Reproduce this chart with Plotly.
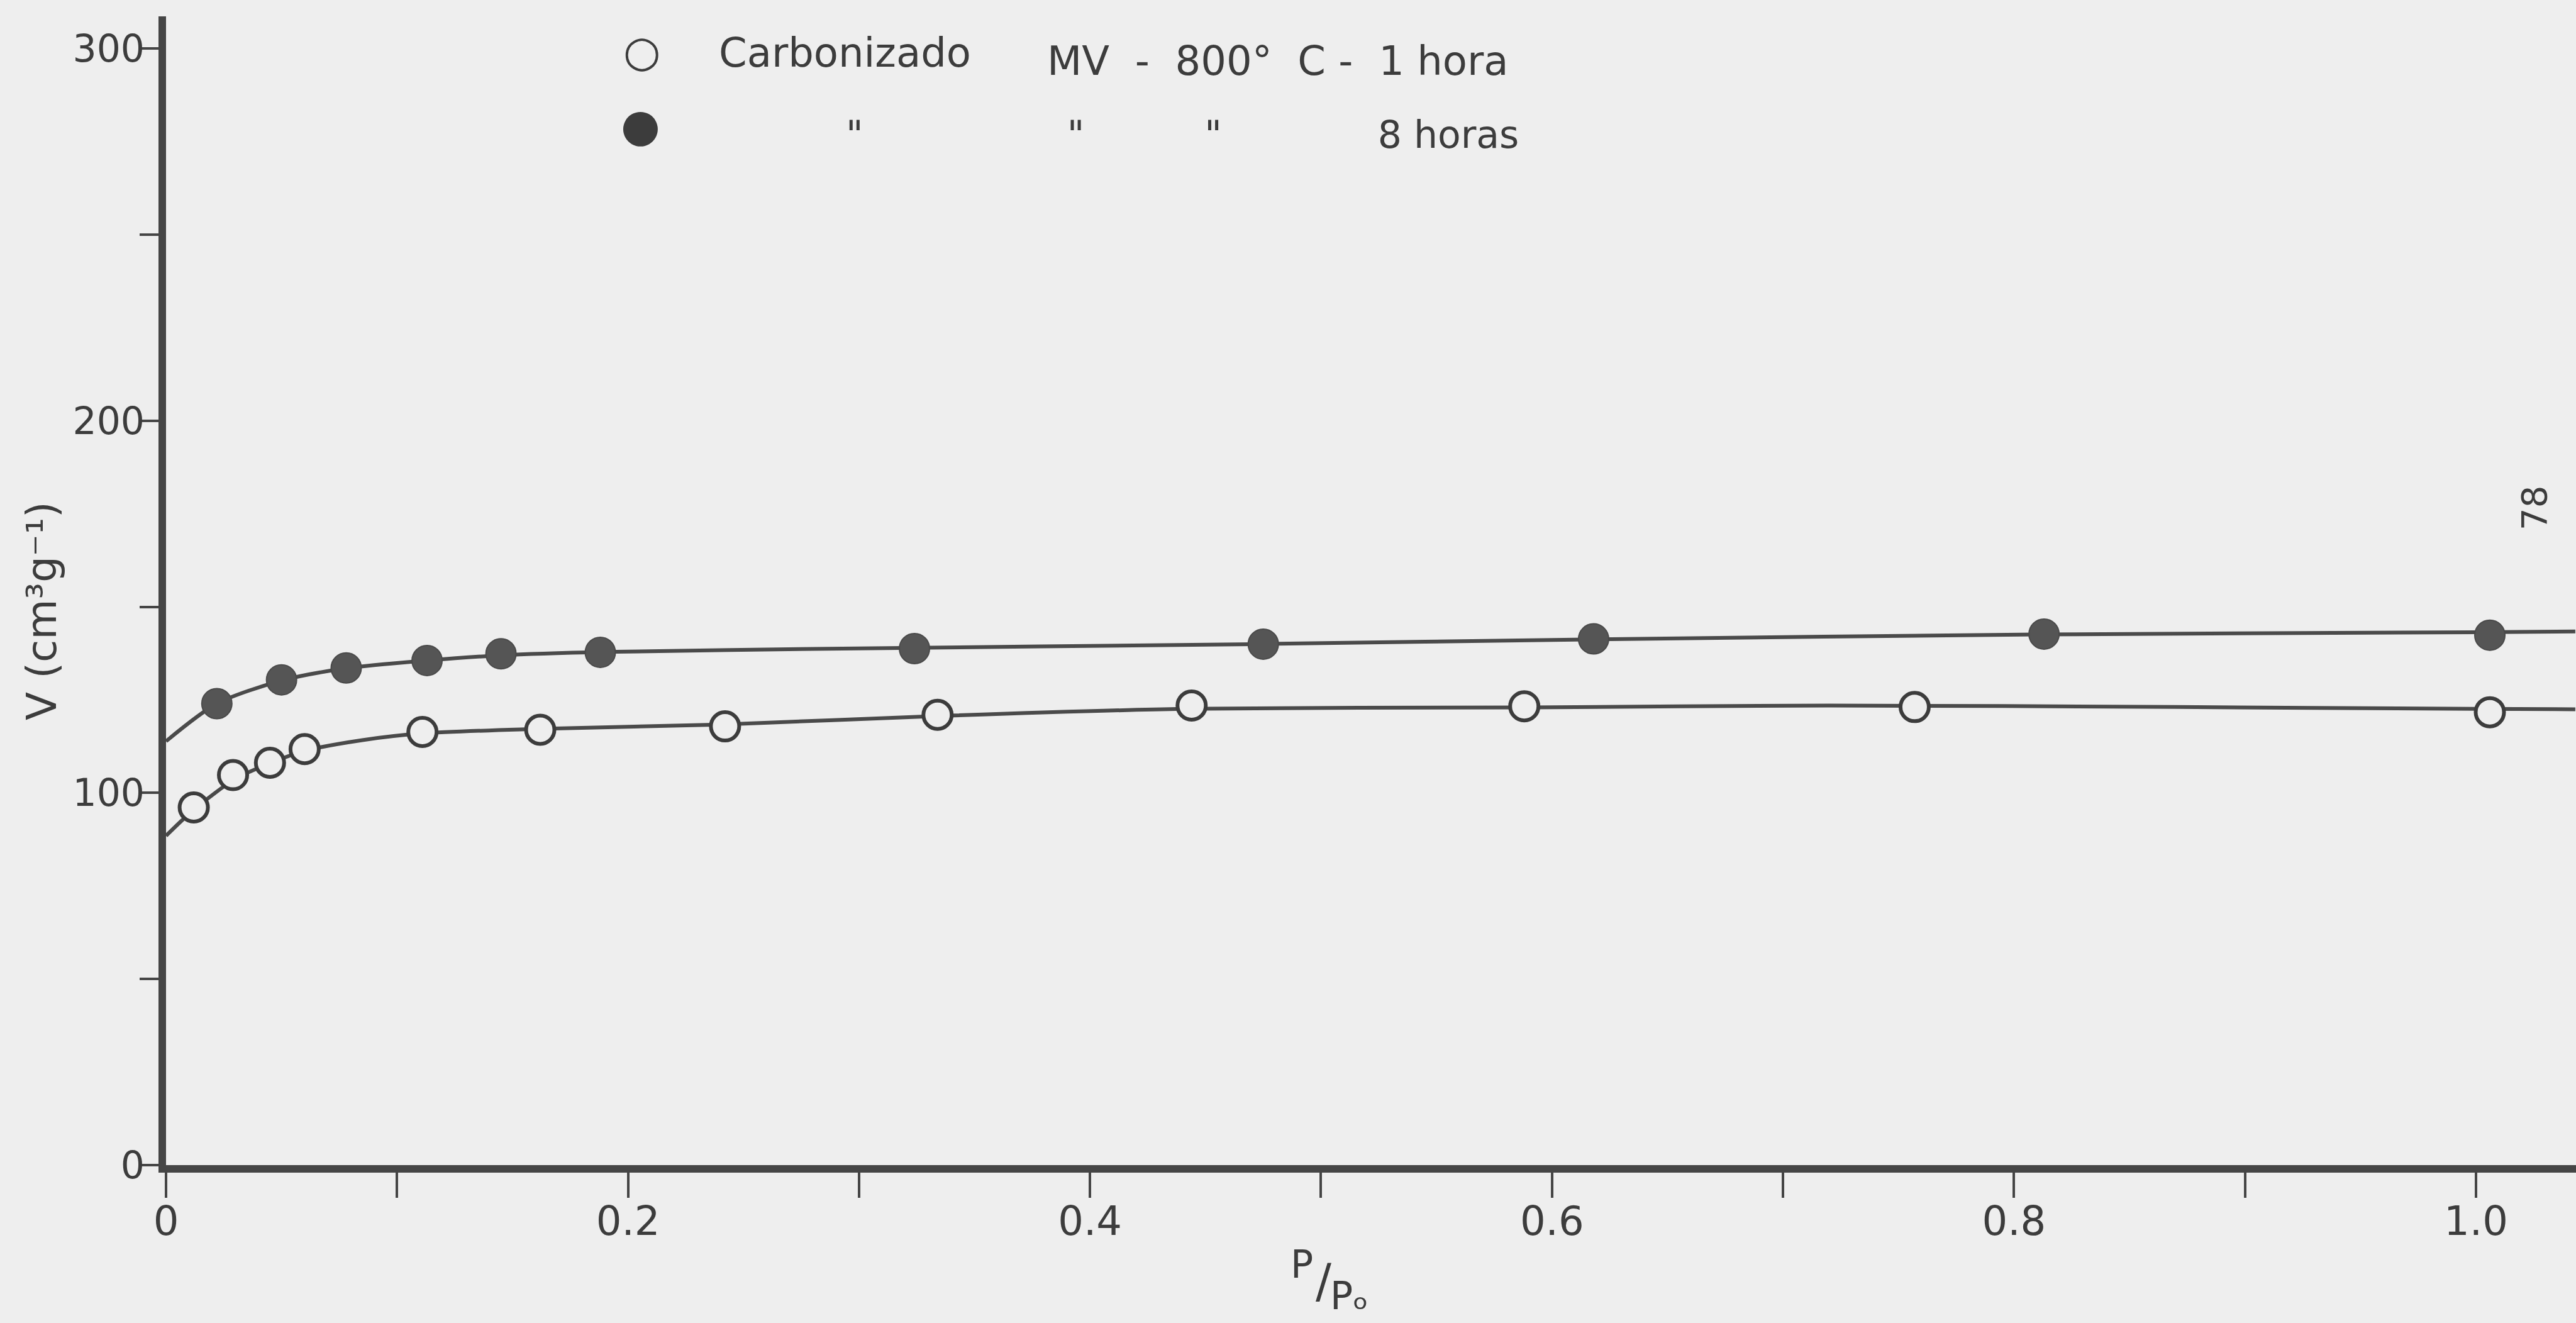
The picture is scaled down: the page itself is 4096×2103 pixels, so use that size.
import plotly.graph_objects as go

# ---------------- data ----------------
# measured points, 1 hour carbonisation (open circles)
x_1h = [0.012, 0.029, 0.045, 0.060, 0.111, 0.162, 0.242, 0.334, 0.444, 0.588, 0.757, 1.006]
v_1h = [96.1, 104.8, 108.1, 111.8, 116.4, 117.0, 117.9, 121.0, 123.5, 123.3, 123.1, 121.7]

# measured points, 8 hours carbonisation (filled circles)
x_8h = [0.022, 0.050, 0.078, 0.113, 0.145, 0.188, 0.324, 0.475, 0.618, 0.813, 1.006]
v_8h = [124.0, 130.4, 133.6, 135.6, 137.4, 137.8, 138.8, 140.0, 141.4, 142.7, 142.4]

# hand-drawn smooth curves through the points
curve_x_1h = [0.0, 0.012, 0.030, 0.045, 0.060, 0.085, 0.111, 0.160, 0.240, 0.330, 0.440, 0.590, 0.720, 0.870, 1.000, 1.043]
curve_v_1h = [88.5, 95.5, 103.8, 108.0, 111.3, 114.2, 116.0, 117.2, 118.4, 120.6, 122.6, 123.0, 123.5, 123.1, 122.6, 122.5]

curve_x_8h = [0.0, 0.022, 0.050, 0.078, 0.113, 0.145, 0.190, 0.280, 0.470, 0.620, 0.810, 1.000, 1.043]
curve_v_8h = [113.9, 124.0, 130.2, 133.5, 135.6, 137.0, 137.9, 138.7, 140.0, 141.3, 142.6, 143.2, 143.4]

x_ticks = [0.0, 0.2, 0.4, 0.6, 0.8, 1.0]
x_tick_labels = ["0", "0.2", "0.4", "0.6", "0.8", "1.0"]
x_minor_step = 0.1
y_ticks = [0, 100, 200, 300]
y_tick_labels = ["0", "100", "200", "300"]
y_minor_step = 50

# ---------------- style ----------------
W, H = 4096, 2103
PX_L, PX_R, PX_T, PX_B = 264, 4096, 26, 1852
BG = "#eeeeee"
INK = "#3c3c3c"
LINE = "#4a4a4a"
AXIS = "#454545"
FONT = "DejaVu Sans"
NB = "\u00a0"


def fx(px):
    return (px - PX_L) / (PX_R - PX_L)


def fy(py):
    return (PX_B - py) / (PX_B - PX_T)


fig = go.Figure()

fig.add_trace(go.Scatter(x=curve_x_1h, y=curve_v_1h, mode="lines",
                         line=dict(color=LINE, width=6, shape="spline", smoothing=0.8),
                         showlegend=False, hoverinfo="skip"))
fig.add_trace(go.Scatter(x=curve_x_8h, y=curve_v_8h, mode="lines",
                         line=dict(color=LINE, width=6, shape="spline", smoothing=0.8),
                         showlegend=False, hoverinfo="skip"))

fig.add_trace(go.Scatter(x=x_1h, y=v_1h, mode="markers", name="Carbonizado MV - 800° C - 1 hora",
                         marker=dict(size=45, color=BG, line=dict(color=INK, width=6)),
                         showlegend=False, cliponaxis=False))
fig.add_trace(go.Scatter(x=x_8h, y=v_8h, mode="markers", name="Carbonizado MV - 800° C - 8 horas",
                         marker=dict(size=48, color="#555555", line=dict(color="#4a4a4a", width=2)),
                         showlegend=False, cliponaxis=False))

ann = []


def txt(text, px, py, size=64, xanchor="left", angle=0):
    ann.append(dict(text=text, x=fx(px), y=fy(py), xref="paper", yref="paper",
                    xanchor=xanchor, yanchor="middle", showarrow=False, textangle=angle,
                    font=dict(family=FONT, size=size, color=INK)))


# legend (drawn as text)
txt("<b>○</b>", 1020, 82, size=68, xanchor="center")
txt("●", 1018, 199, size=72, xanchor="center")
txt("Carbonizado", 1141, 84)
txt("MV" + NB * 2 + "-" + NB * 2 + "800°" + NB * 2 + "C" + NB + "-" + NB * 2 + "1 hora", 1663, 97)
txt('"' + NB * 17 + '"' + NB * 10 + '"' + NB * 13 + "8 horas", 1343, 214, size=60)

# axis titles
txt("V (cm³g⁻¹)", 66, 971, size=66, xanchor="center", angle=-90)
txt("P", 2070, 2010, size=60, xanchor="center")
txt("/", 2104, 2036, size=74, xanchor="center")
txt("Pₒ", 2113, 2060, size=60)

# page number
txt("78", 4029, 808, size=56, xanchor="center", angle=-90)

fig.update_layout(
    width=W, height=H,
    margin=dict(l=PX_L, r=W - PX_R, t=PX_T, b=H - PX_B, pad=0),
    paper_bgcolor=BG, plot_bgcolor=BG,
    showlegend=False,
    annotations=ann,
    font=dict(family=FONT, color=INK),
    xaxis=dict(range=[0, 1.0433], showgrid=False, zeroline=False,
               showline=True, linewidth=12, linecolor=AXIS,
               ticks="outside", ticklen=40, tickwidth=4, tickcolor=AXIS,
               tickvals=x_ticks, ticktext=x_tick_labels, ticklabelstandoff=-18,
               minor=dict(dtick=x_minor_step, tick0=0, ticks="outside", ticklen=40,
                          tickwidth=4, tickcolor=AXIS, showgrid=False),
               tickfont=dict(family=FONT, size=64, color=INK)),
    yaxis=dict(range=[0, 308.7], showgrid=False, zeroline=False,
               showline=True, linewidth=12, linecolor=AXIS,
               ticks="outside", ticklen=30, tickwidth=4, tickcolor=AXIS,
               tickvals=y_ticks, ticktext=y_tick_labels, ticklabelstandoff=-20,
               minor=dict(dtick=y_minor_step, tick0=0, ticks="outside", ticklen=30,
                          tickwidth=4, tickcolor=AXIS, showgrid=False),
               tickfont=dict(family=FONT, size=60, color=INK)),
)

fig.write_html("out.html")
